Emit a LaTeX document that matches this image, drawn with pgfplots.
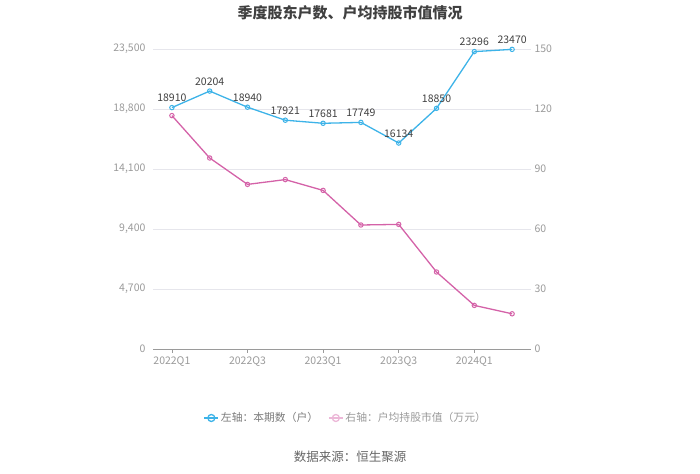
\documentclass[border=0pt]{standalone}
\usepackage{pgfplots}
\pgfplotsset{compat=1.18}
\usepackage{fontspec}
\setmainfont{Noto Sans CJK SC}
\definecolor{cblue}{HTML}{3DB3E8}
\definecolor{cpink}{HTML}{D462A8}
\definecolor{tickgray}{HTML}{9A9A9A}
\definecolor{gridgray}{HTML}{E6E6EC}
\definecolor{labgray}{HTML}{404040}
\begin{document}
\begin{tikzpicture}
\path[use as bounding box] (0pt,0pt) rectangle (700pt,473pt);
\node[font=\bfseries\fontsize{15}{17}\selectfont, text=black!75] at (350pt,460pt) {季度股东户数、户均持股市值情况};
\pgfplotsset{
  base/.style={
    at={(153pt,124pt)}, anchor=south west, scale only axis,
    width=378pt, height=300pt,
    xmin=-0.5, xmax=9.5, ymin=0,
    /pgf/number format/assume math mode=true,
    tick label style={font=\fontsize{10.5}{12}\selectfont, text=tickgray},
    scaled y ticks=false,
  }
}
\begin{axis}[base,
  ymax=23500,
  ytick={0,4700,9400,14100,18800,23500},
  yticklabel style={/pgf/number format/.cd,1000 sep={,},fixed,precision=0},
  xtick={0,2,4,6,8}, xticklabels={2022Q1,2022Q3,2023Q1,2023Q3,2024Q1},
  axis x line*=bottom, axis y line*=left,
  y axis line style={draw=none},
  x axis line style={draw=tickgray, line width=0.8pt},
  ytick style={draw=none},
  xtick style={draw=tickgray, line width=0.8pt},
  tick align=outside, major tick length=4pt,
  ymajorgrids, grid style={gridgray, line width=0.8pt},
  nodes near coords,
  point meta=y,
  nodes near coords style={font=\fontsize{10.5}{12}\selectfont, text=labgray, anchor=south, yshift=2pt,
    /pgf/number format/.cd,1000 sep={},fixed,precision=0},
]
\addplot[cblue, line width=1.3pt, mark=o, mark size=2.2pt, mark options={fill=white, line width=1pt}]
coordinates {(0,18910) (1,20204) (2,18940) (3,17921) (4,17681) (5,17749) (6,16134) (7,18850) (8,23296) (9,23470)};
\end{axis}
\begin{axis}[base,
  ymax=150,
  ytick={0,30,60,90,120,150},
  axis y line*=right, axis x line=none,
  y axis line style={draw=none},
  ytick style={draw=none},
  legend style={at={(0.51,-0.23)}, anchor=center, draw=none, fill=none,
    font=\fontsize{10.8}{12}\selectfont, text=tickgray!80!black, legend columns=2,
    /tikz/every even column/.append style={column sep=8pt}},
  legend cell align=left,
  legend image code/.code={\draw[mark repeat=2,mark phase=2,#1] plot coordinates {(0pt,0pt) (7pt,0pt) (14pt,0pt)};},
]
\addlegendimage{cblue, line width=1.3pt, mark=o, mark size=3.5pt, mark options={fill=white, line width=1.3pt}}
\addlegendentry{左轴：本期数（户）}
\addplot[cpink, line width=1.3pt, mark=o, mark size=2.2pt, mark options={fill=white, line width=1pt},
  forget plot]
coordinates {(0,116.7) (1,95.5) (2,82.3) (3,84.7) (4,79.3) (5,62.0) (6,62.3) (7,38.5) (8,21.8) (9,17.6)};
\addlegendimage{cpink!45, line width=1.3pt, mark=o, mark size=3.5pt, mark options={fill=white, line width=1.3pt}}
\addlegendentry[text=tickgray]{右轴：户均持股市值（万元）}
\end{axis}
\node[font=\fontsize{12.5}{14}\selectfont, text=labgray!80] at (350pt,16pt) {数据来源：恒生聚源};
\end{tikzpicture}
\end{document}
